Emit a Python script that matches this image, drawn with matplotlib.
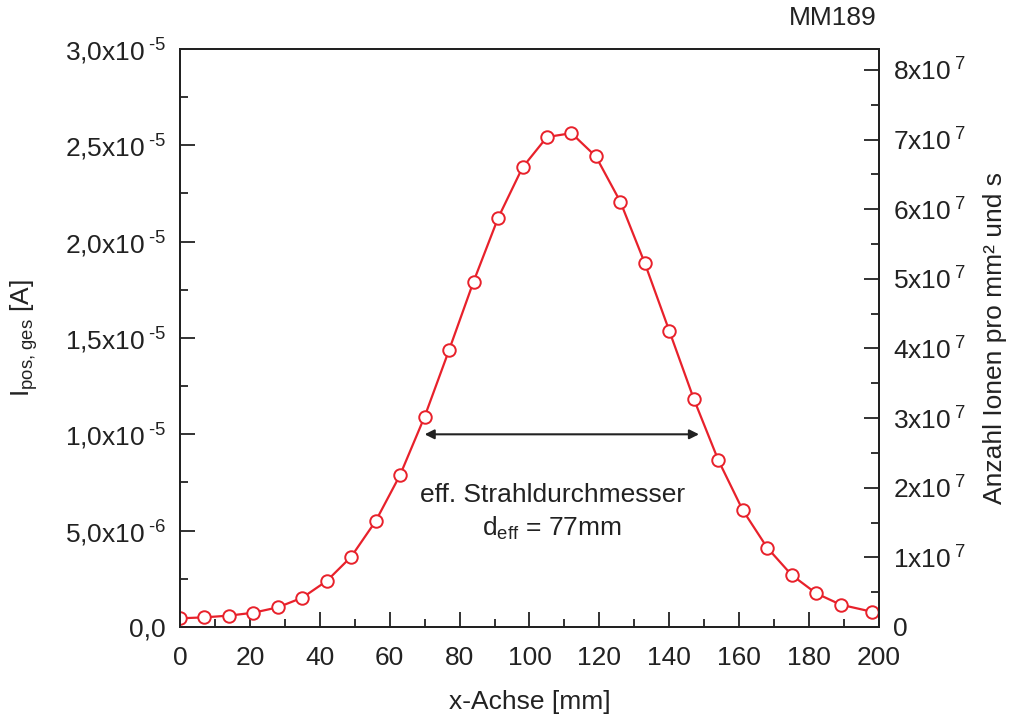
import matplotlib
matplotlib.use("Agg")
import matplotlib.pyplot as plt
from matplotlib.ticker import FixedLocator, FixedFormatter, MultipleLocator

plt.rcParams['font.family'] = ['Liberation Sans', 'DejaVu Sans']
plt.rcParams['mathtext.fontset'] = 'custom'
plt.rcParams['mathtext.rm'] = 'Liberation Sans'
plt.rcParams['mathtext.it'] = 'Liberation Sans'
plt.rcParams['mathtext.bf'] = 'Liberation Sans'

# ---- data ----
x_mm = [0, 7, 14, 21, 28, 35, 42, 49, 56, 63, 70, 77, 84, 91, 98, 105, 112,
        119, 126, 133, 140, 147, 154, 161, 168, 175, 182, 189, 198]
current_A = [4.5e-7, 5.0e-7, 5.9e-7, 7.4e-7, 1.02e-6, 1.52e-6, 2.39e-6, 3.65e-6,
             5.5e-6, 7.9e-6, 1.092e-5, 1.438e-5, 1.793e-5, 2.122e-5, 2.385e-5,
             2.543e-5, 2.563e-5, 2.442e-5, 2.207e-5, 1.888e-5, 1.537e-5,
             1.184e-5, 8.67e-6, 6.07e-6, 4.12e-6, 2.70e-6, 1.75e-6, 1.16e-6, 7.9e-7]

x_ticks = [0, 20, 40, 60, 80, 100, 120, 140, 160, 180, 200]
left_ticks = [0, 5e-6, 1e-5, 1.5e-5, 2e-5, 2.5e-5, 3e-5]
left_labels = ['0,0', r'5,0x10$\,^{\text{-6}}$', r'1,0x10$\,^{\text{-5}}$',
               r'1,5x10$\,^{\text{-5}}$', r'2,0x10$\,^{\text{-5}}$',
               r'2,5x10$\,^{\text{-5}}$', r'3,0x10$\,^{\text{-5}}$']
right_ticks = [0, 1e7, 2e7, 3e7, 4e7, 5e7, 6e7, 7e7, 8e7]
right_labels = ['0'] + [r'%dx10$\,^{\text{7}}$' % i for i in range(1, 9)]
right_max = 8.3e7

arrow_x = [70, 148.5]
arrow_y = 1.0e-5
d_eff_text = r'd$_{\text{eff}}$ = 77mm'

red = '#e8212b'
ink = '#222222'

fig = plt.figure(figsize=(10.13, 7.15), dpi=100)
ax = fig.add_axes([0.1777, 0.1231, 0.69, 0.8084])

ax.plot(x_mm, current_A, color=red, lw=1.6, marker='o', ms=9,
        mfc='white', mec=red, mew=1.4, zorder=3)

ax.set_xlim(0, 200)
ax.set_ylim(0, 3e-5)
ax.xaxis.set_major_locator(FixedLocator(x_ticks))
ax.xaxis.set_minor_locator(MultipleLocator(10))
ax.yaxis.set_major_locator(FixedLocator(left_ticks))
ax.yaxis.set_major_formatter(FixedFormatter(left_labels))
ax.yaxis.set_minor_locator(MultipleLocator(2.5e-6))
ax.tick_params(which='both', direction='in', labelsize=19, width=1.3,
               top=False, right=False, colors=ink)
ax.tick_params(which='major', length=11, pad=10)
ax.tick_params(which='minor', length=6)
ax.tick_params(axis='x', which='major', pad=14)
for s in ax.spines.values():
    s.set_linewidth(1.4)
    s.set_color(ink)

ax.set_xlabel('x-Achse [mm]', fontsize=19, labelpad=14, color=ink)
ax.set_ylabel(r'I$_{\text{pos, ges}}$ [A]', fontsize=19, labelpad=18, color=ink)

ax2 = ax.twinx()
ax2.set_ylim(0, right_max)
ax2.yaxis.set_major_locator(FixedLocator(right_ticks))
ax2.yaxis.set_major_formatter(FixedFormatter(right_labels))
ax2.yaxis.set_minor_locator(MultipleLocator(5e6))
ax2.tick_params(which='both', direction='in', labelsize=19, width=1.3, colors=ink)
ax2.tick_params(which='major', length=11, pad=10)
ax2.tick_params(which='minor', length=6)
for s in ax2.spines.values():
    s.set_linewidth(1.4)
    s.set_color(ink)
ax2.set_ylabel('Anzahl Ionen pro mm² und s', fontsize=19, labelpad=13, color=ink)

ax.annotate('', xy=(arrow_x[0], arrow_y), xytext=(arrow_x[1], arrow_y),
            arrowprops=dict(arrowstyle='<|-|>', color=ink, lw=1.5,
                            mutation_scale=14, shrinkA=0, shrinkB=0))
ax.text(106.5, 0.685e-5, 'eff. Strahldurchmesser', fontsize=19,
        ha='center', va='center', color=ink)
ax.text(106.5, 0.51e-5, d_eff_text, fontsize=19,
        ha='center', va='center', color=ink)

fig.text(0.865, 0.975, 'MM189', fontsize=19, ha='right', va='center', color=ink)

fig.savefig('out.png', dpi=100)
